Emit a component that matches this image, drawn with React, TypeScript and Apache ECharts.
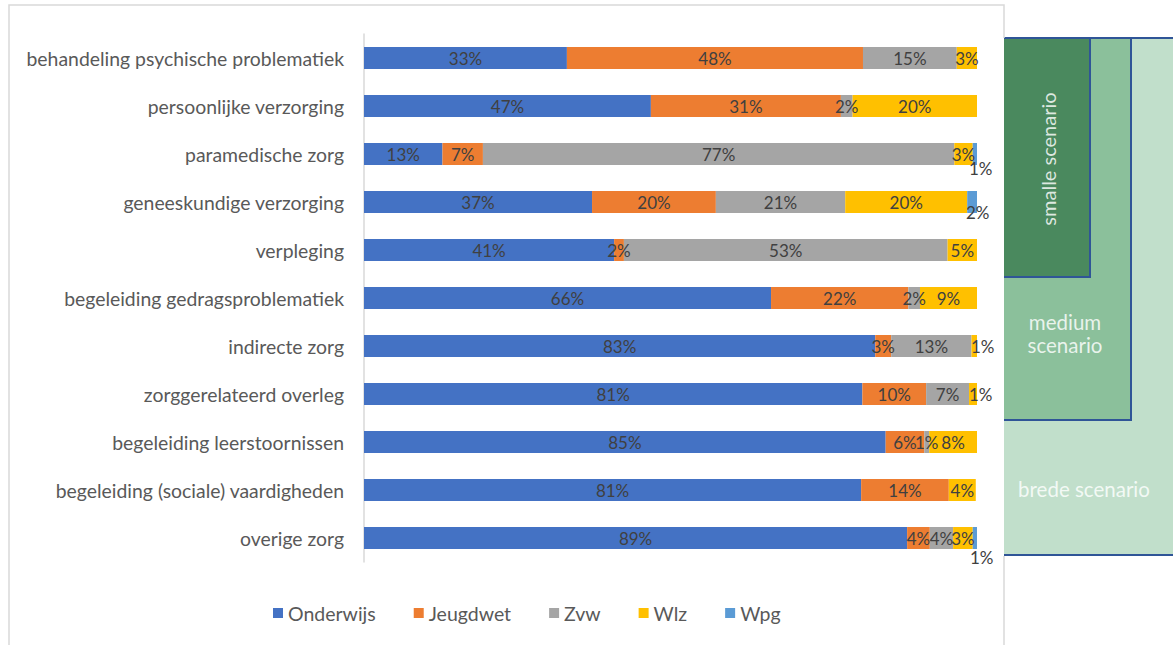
import React, { useEffect, useRef } from "react";
import * as echarts from "echarts";

const categories = [
  "behandeling psychische problematiek",
  "persoonlijke verzorging",
  "paramedische zorg",
  "geneeskundige verzorging",
  "verpleging",
  "begeleiding gedragsproblematiek",
  "indirecte zorg",
  "zorggerelateerd overleg",
  "begeleiding leerstoornissen",
  "begeleiding (sociale) vaardigheden",
  "overige zorg",
];

const seriesNames = ["Onderwijs", "Jeugdwet", "Zvw", "Wlz", "Wpg"];

const onderwijs = [33.1, 46.8, 12.8, 37.2, 40.8, 66.4, 83.4, 81.3, 85.1, 81.1, 88.6];
const jeugdwet = [48.3, 31.0, 6.6, 20.2, 1.6, 22.4, 2.6, 10.4, 6.3, 14.3, 3.7];
const zvw = [15.3, 1.9, 76.9, 21.1, 52.8, 1.9, 13.1, 7.0, 0.8, 0, 3.8];
const wlz = [3.3, 20.3, 3.0, 19.9, 4.8, 9.3, 0.9, 1.3, 7.8, 4.4, 3.2];
const wpg = [0, 0, 0.7, 1.6, 0, 0, 0, 0, 0, 0, 0.7];

const scenarioLabels = ["smalle scenario", "medium\nscenario", "brede scenario"];

const colors = ["#4472C4", "#ED7D31", "#A5A5A5", "#FFC000", "#5B9BD5"];
const FONT = "Lato, 'Open Sans', sans-serif";

// label placement tweaks (series index -> category index -> [dx, dy])
const outsideLabels: Record<number, Record<number, [number, number]>> = {
  3: { 6: [-6, 0], 7: [-8, 0] },
  4: { 2: [-8, 14], 3: [-11, 10], 10: [-7, 19] },
};

export default function App() {
  const ref = useRef<HTMLDivElement>(null);

  useEffect(() => {
    if (!ref.current) return;
    const chart = echarts.init(ref.current, null, { renderer: "svg" });
    const all = [onderwijs, jeugdwet, zvw, wlz, wpg];

    const series = all.map((vals, si) => ({
      name: seriesNames[si],
      type: "bar",
      stack: "total",
      barWidth: 22,
      itemStyle: { color: colors[si] },
      label: {
        show: true,
        position: "inside",
        color: "#404040",
        fontSize: 17,
        fontFamily: FONT,
        formatter: (p: any) => (p.value > 0 ? Math.round(p.value) + "%" : ""),
      },
      data: vals.map((v, ci) => {
        const o = outsideLabels[si] && outsideLabels[si][ci];
        if (!o) return v;
        return {
          value: v,
          label: { position: "right", distance: 0, offset: o },
        };
      }),
    }));

    const blue = "#2F5597";
    const frame = "#D9D9D9";
    const txt = "rgba(255,255,255,0.82)";

    chart.setOption({
      animation: false,
      backgroundColor: "#ffffff",
      grid: { left: 364, right: 196, top: 34, height: 528, containLabel: false },
      xAxis: { type: "value", min: 0, max: 100, show: false },
      yAxis: {
        type: "category",
        inverse: true,
        data: categories,
        axisLine: { show: true, lineStyle: { color: frame, width: 1.5 } },
        axisTick: { show: false },
        axisLabel: { color: "#595959", fontSize: 19.4, margin: 20, fontFamily: FONT },
      },
      legend: {
        data: seriesNames,
        left: 268,
        top: 598,
        icon: "rect",
        itemWidth: 10,
        itemHeight: 10,
        itemGap: 38,
        textStyle: { color: "#595959", fontSize: 19.5, fontFamily: FONT },
      },
      series,
      graphic: [
        { type: "rect", shape: { x: 1004, y: 38, width: 169, height: 517 }, style: { fill: "#C1DFCB" }, z: 1 },
        { type: "rect", shape: { x: 1004, y: 38, width: 127, height: 382 }, style: { fill: "#8BC09B" }, z: 2 },
        { type: "rect", shape: { x: 1004, y: 38, width: 86, height: 239 }, style: { fill: "#4A895E" }, z: 3 },
        { type: "line", shape: { x1: 1004, y1: 38, x2: 1173, y2: 38 }, style: { stroke: blue, lineWidth: 2 }, z: 4 },
        { type: "polyline", shape: { points: [[1090, 38], [1090, 277], [1004, 277]] }, style: { stroke: blue, lineWidth: 2, fill: null }, z: 4 },
        { type: "polyline", shape: { points: [[1131, 38], [1131, 420], [1004, 420]] }, style: { stroke: blue, lineWidth: 2, fill: null }, z: 4 },
        { type: "line", shape: { x1: 1004, y1: 555, x2: 1173, y2: 555 }, style: { stroke: blue, lineWidth: 2 }, z: 4 },
        { type: "polyline", shape: { points: [[9, 645], [9, 5], [1004, 5], [1004, 38]] }, style: { stroke: frame, lineWidth: 1.5, fill: null }, z: 4 },
        { type: "line", shape: { x1: 1004, y1: 556, x2: 1004, y2: 645 }, style: { stroke: frame, lineWidth: 1.5 }, z: 4 },
        {
          type: "text", x: 1048, y: 159, rotation: Math.PI / 2, z: 5,
          style: { text: scenarioLabels[0], fill: txt, fontSize: 20, fontFamily: FONT, align: "center", verticalAlign: "middle" },
        },
        {
          type: "text", x: 1065, y: 333, z: 5,
          style: { text: scenarioLabels[1], fill: txt, fontSize: 20.5, fontFamily: FONT, align: "center", verticalAlign: "middle", lineHeight: 23 },
        },
        {
          type: "text", x: 1084, y: 489, z: 5,
          style: { text: scenarioLabels[2], fill: txt, fontSize: 20.5, fontFamily: FONT, align: "center", verticalAlign: "middle" },
        },
      ],
    });
    return () => chart.dispose();
  }, []);

  return (
    <div
      ref={ref}
      style={{ position: "fixed", left: 0, top: 0, width: 1173, height: 645 }}
    />
  );
}
